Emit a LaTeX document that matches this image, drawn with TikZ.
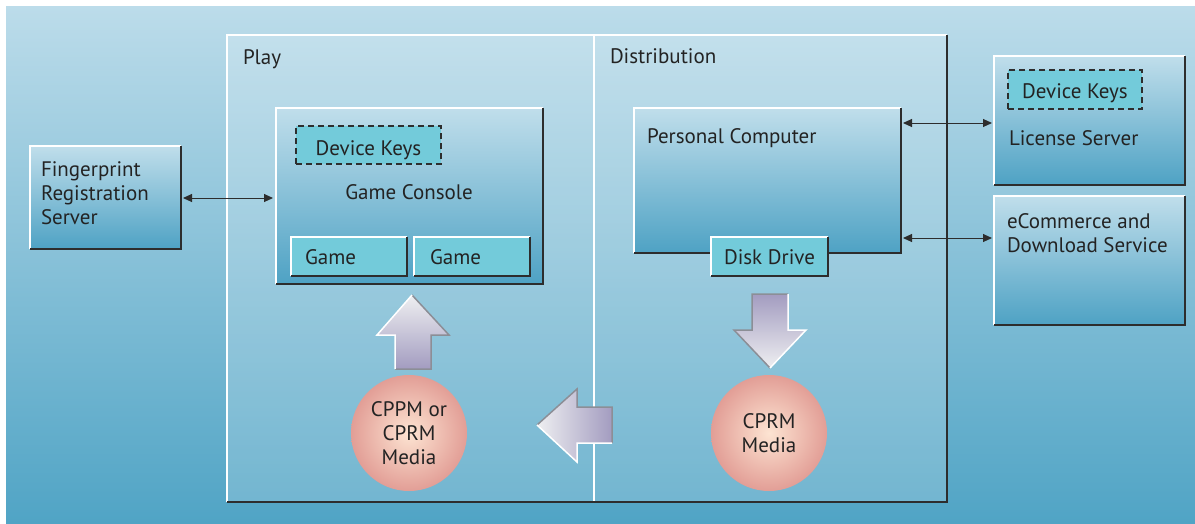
\documentclass[tikz,border=0pt]{standalone}
\usepackage{fontspec}
\setmainfont{PT Sans}
\usetikzlibrary{arrows.meta}

\definecolor{bgtop}{RGB}{188,220,234}
\definecolor{bgbot}{RGB}{80,164,197}
\definecolor{paneltop}{RGB}{192,222,235}
\definecolor{panelbot}{RGB}{78,162,196}
\definecolor{cyanbox}{RGB}{115,203,218}
\definecolor{edgedark}{RGB}{45,45,45}
\definecolor{arrowpurple}{RGB}{163,156,192}
\definecolor{arrowlight}{RGB}{238,239,241}
\definecolor{arrowedge}{RGB}{140,142,150}
\definecolor{mediain}{RGB}{253,228,210}
\definecolor{mediaout}{RGB}{226,158,150}
\definecolor{inktext}{RGB}{35,35,35}

% raised frame: light top/left edges, dark right/bottom edges
\newcommand\bevelframe[1]{%
  \draw[white, line width=1.5pt] (#1.south west) -- (#1.north west) -- (#1.north east);
  \draw[edgedark, line width=1.8pt] (#1.north east) -- (#1.south east) -- (#1.south west);}

\begin{document}
\begin{tikzpicture}[x=1pt, y=-1pt, font=\fontsize{21}{24}\selectfont,
  txt/.style={text=inktext, inner sep=0pt, outer sep=0pt},
  panel/.style={anchor=north west, inner sep=0pt, outer sep=0pt, top color=paneltop, bottom color=panelbot},
  chip/.style={anchor=north west, inner sep=0pt, outer sep=0pt, fill=cyanbox},
  keybox/.style={anchor=north west, inner sep=0pt, outer sep=0pt, fill=cyanbox, draw=edgedark, line width=1.2pt, dash pattern=on 6pt off 4pt},
  media/.style={circle, inner sep=0pt, minimum size=116pt, inner color=mediain, outer color=mediaout, text=inktext, align=center},
  link/.style={{Triangle[length=9pt,width=8pt]}-{Triangle[length=9pt,width=8pt]}, line width=1pt, draw=edgedark},
  blockarrow/.style={draw=arrowedge, line width=1.5pt, line join=miter},
  lit/.style={draw=white, line width=1.5pt, line join=miter},
]
\useasboundingbox (0,0) rectangle (1195,523);
\fill[white] (0,0) rectangle (1195,523);
\shade[top color=bgtop, bottom color=bgbot] (6,6) rectangle (1195,523);

% play / distribution zone
\node[anchor=north west, inner sep=0pt, outer sep=0pt, minimum width=720pt, minimum height=467pt,
      fill=white, fill opacity=0.18] (zone) at (227,35) {};
\coordinate (divtop) at (594,35);
\coordinate (divbot) at (594,502);
\draw[white, line width=1.5pt] (divtop) -- (divbot);
\bevelframe{zone}
\node[txt, anchor=base west] (playlbl) at (243,64) {Play};
\node[txt, anchor=base west] (distlbl) at (610,63) {Distribution};

% fingerprint registration server
\node[panel, minimum width=151pt, minimum height=103pt] (fps) at (30,146) {};
\bevelframe{fps}
\node[txt, anchor=base west, align=left] (fpstxt) at (41,224) {Fingerprint\\Registration\\Server};

% game console
\node[panel, minimum width=267pt, minimum height=176pt] (console) at (276,108) {};
\bevelframe{console}
\node[keybox, minimum width=145pt, minimum height=38pt] (ckeys) at (296,126) {};
\node[txt, anchor=base] (ckeystxt) at (ckeys.center |- 0,155) {Device Keys};
\node[txt, anchor=base] (consoletxt) at (409,199) {Game Console};
\node[chip, minimum width=116pt, minimum height=39pt] (game1) at (291,237) {};
\bevelframe{game1}
\node[chip, minimum width=116pt, minimum height=39pt] (game2) at (414,237) {};
\bevelframe{game2}
\node[txt, anchor=base west] (game1txt) at (305,264) {Game};
\node[txt, anchor=base west] (game2txt) at (430,264) {Game};

% personal computer
\node[panel, minimum width=267pt, minimum height=145pt] (pc) at (634,108) {};
\bevelframe{pc}
\node[txt, anchor=base west] (pctxt) at (647,143) {Personal Computer};
\node[chip, minimum width=117pt, minimum height=39pt] (disk) at (711,237) {};
\bevelframe{disk}
\node[txt, anchor=base] (disktxt) at (disk.center |- 0,264) {Disk Drive};

% license server
\node[panel, minimum width=191pt, minimum height=129pt] (lic) at (994,56) {};
\bevelframe{lic}
\node[keybox, minimum width=134pt, minimum height=39pt] (lkeys) at (1008,70) {};
\node[txt, anchor=base] (lkeystxt) at (lkeys.center |- 0,98) {Device Keys};
\node[txt, anchor=base west] (lictxt) at (1009,145) {License Server};

% ecommerce service
\node[panel, minimum width=191pt, minimum height=129pt] (ecom) at (994,196) {};
\bevelframe{ecom}
\node[txt, anchor=base west, align=left] (ecomtxt) at (1007,252) {eCommerce and\\Download Service};

% links
\draw[link, shorten <=2pt, shorten >=3pt] (fps.east |- 0,198) -- (console.west |- 0,198);
\draw[link, shorten <=2pt, shorten >=2pt] (pc.east |- 0,123) -- (lic.west |- 0,123);
\draw[link, shorten <=2pt, shorten >=2pt] (pc.east |- 0,238) -- (ecom.west |- 0,238);

% media discs
\node[media] (cppm) at (409,433) {CPPM or\\CPRM\\Media};
\node[media] (cprm) at (769,433) {CPRM\\Media};

% block arrows
\shade[top color=arrowlight, bottom color=arrowpurple]
  (412,295) -- (449,335) -- (431,335) -- (431,369) -- (395,369) -- (395,335) -- (377,335) -- cycle;
\draw[blockarrow] (412,295) -- (449,335) -- (431,335) -- (431,369) -- (395,369);
\draw[lit] (395,369) -- (395,335) -- (377,335) -- (412,295);

\shade[top color=arrowpurple, bottom color=arrowlight]
  (752,294) -- (788,294) -- (788,330) -- (806,330) -- (770,368) -- (734,330) -- (752,330) -- cycle;
\draw[blockarrow] (788,294) -- (752,294) -- (752,330) -- (734,330) -- (770,368);
\draw[lit] (770,368) -- (806,330) -- (788,330) -- (788,294);

\shade[left color=arrowlight, right color=arrowpurple]
  (537,425) -- (577,389) -- (577,407) -- (612,407) -- (612,443) -- (577,443) -- (577,462) -- cycle;
\draw[blockarrow] (537,425) -- (577,389) -- (577,407) -- (612,407) -- (612,443);
\draw[lit] (612,443) -- (577,443) -- (577,462) -- (537,425);
\end{tikzpicture}
\end{document}
